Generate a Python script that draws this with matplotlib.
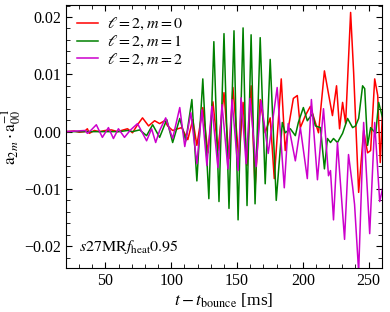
import matplotlib
matplotlib.use("Agg")
import matplotlib.pyplot as plt
from matplotlib.ticker import MultipleLocator

plt.rcParams['font.family'] = ['Liberation Serif', 'DejaVu Serif']
plt.rcParams['mathtext.fontset'] = 'stix'

# ---------------- data ----------------
# l=2, m=0
t_m0 = [20, 26.3, 30.2, 34.0, 36.3, 37.8, 41.6, 45.4, 50.0, 54.6, 59.2, 63.7, 66.8,
        70.6, 74.4, 78.2, 82.8, 87.4, 91.2, 95.0, 97.3, 101.1, 105.0, 108.0, 112.6,
        116.4, 119.5, 124.0, 127.9, 131.7, 135.5, 140.1, 143.9, 146.9, 151.5, 154.6,
        157.6, 160.7, 163.7, 167.6, 171.4, 175.2, 178.3, 183.6, 186.6, 188.9, 192.8,
        195.8, 198.1, 201.9, 205.7, 209.5, 211.9, 216.4, 219.5, 222.5, 225.6, 227.9,
        230.2, 232.5, 236.3, 238.6, 242.4, 246.2, 249.2, 251.5, 254.6, 256.9, 258.8,
        260.7]
a_m0 = [0.0, 0.0001, -0.0001, 0.0, 0.0005, -0.0003, 0.0002, 0.0, 0.0002, 0.0003, 0.0,
        0.0003, 0.0005, -0.0002, 0.0012, 0.0024, 0.0010, 0.0019, 0.0014, 0.0019, 0.0010,
        0.0002, 0.0005, 0.0007, -0.0014, 0.0021, -0.0024, 0.0042, -0.0037, 0.0052,
        -0.0033, 0.0068, -0.0047, 0.0077, -0.0051, 0.0051, -0.0059, 0.0080, -0.0099,
        0.0056, -0.0002, 0.0024, -0.0082, 0.0092, -0.0033, 0.0005, 0.0058, 0.0063,
        0.0007, 0.0028, 0.0044, 0.0016, -0.0002, 0.0106, 0.0066, 0.0028, 0.0080, 0.0005,
        0.0051, 0.0014, 0.0208, 0.0103, -0.0106, 0.0002, -0.0037, -0.0033, 0.0092,
        0.0063, -0.0054, 0.0045]

# l=2, m=1
t_m1 = [20, 60.7, 66.8, 70.6, 76.0, 81.3, 85.9, 91.2, 96.6, 101.1, 106.5, 111.1, 115.7,
        119.5, 124.0, 128.6, 132.4, 136.3, 140.1, 143.9, 147.7, 150.8, 154.6, 157.6,
        160.7, 163.7, 167.6, 171.4, 175.2, 179.8, 184.4, 186.6, 190.5, 194.3, 196.6,
        200.4, 203.4, 207.3, 209.5, 213.4, 216.4, 218.7, 221.0, 223.3, 226.3, 230.2,
        234.0, 237.8, 240.1, 242.4, 245.4, 247.0, 249.2, 251.5, 255.4, 257.6, 260.7]
a_m1 = [0.0, 0.0, 0.0002, 0.0, 0.0003, -0.0007, 0.0012, -0.0010, 0.0021, -0.0019, 0.0023,
        -0.0016, 0.0056, -0.0086, 0.0092, -0.0117, 0.0157, -0.0122, 0.0171, -0.0134,
        0.0176, -0.0154, 0.0181, -0.0129, 0.0169, -0.0126, 0.0164, -0.0091, 0.0126,
        -0.0120, 0.0016, -0.0002, 0.0005, -0.0007, 0.0016, 0.0042, 0.0019, 0.0031,
        0.0010, 0.0007, -0.0065, -0.0012, -0.0019, -0.0012, -0.0019, -0.0003, 0.0023,
        0.0007, 0.0010, 0.0023, 0.0080, 0.0075, -0.0024, 0.0007, -0.0003, 0.0051, 0.0023]

# l=2, m=2
t_m2 = [20, 34.7, 36.3, 39.3, 43.1, 47.7, 52.3, 56.1, 59.9, 64.5, 69.1, 74.4, 81.3, 85.1,
        88.2, 91.2, 95.8, 101.1, 106.5, 110.3, 114.9, 119.5, 123.3, 127.1, 130.9, 135.5,
        138.6, 143.1, 146.2, 150.8, 153.1, 156.9, 159.9, 164.5, 168.3, 173.7, 180.5,
        185.9, 188.9, 194.3, 198.1, 203.4, 206.5, 211.1, 215.7, 219.5, 221.0, 223.3,
        226.3, 231.7, 234.7, 237.8, 239.3, 242.4, 246.2, 250.8, 254.6, 258.4, 260.7]
a_m2 = [0.0, 0.0002, -0.0003, 0.0003, 0.0012, -0.0010, 0.0007, -0.0012, 0.0005, -0.0010,
        0.0003, 0.0014, -0.0016, 0.0005, -0.0019, 0.0002, 0.0024, -0.0012, 0.0042, -0.0026,
        0.0033, -0.0056, 0.0038, -0.0059, 0.0044, -0.0063, 0.0047, -0.0065, 0.0056,
        -0.0068, 0.0059, -0.0056, 0.0058, -0.0061, 0.0054, -0.0038, 0.0077, -0.0098,
        0.0014, -0.0051, 0.0007, -0.0082, 0.0056, -0.0084, 0.0040, -0.0077, -0.0068,
        -0.0154, -0.0019, -0.0188, -0.0040, -0.0096, -0.0127, -0.0245, 0.0016, -0.0178,
        0.0016, -0.0122, -0.0098]

labels = [r"$\ell=2, m=0$", r"$\ell=2, m=1$", r"$\ell=2, m=2$"]
colors = ['#ff0000', '#008000', '#cc00cc']

# ---------------- plot ----------------
fig = plt.figure(figsize=(3.9, 3.12), dpi=100)
ax = fig.add_axes([0.169, 0.141, 0.81, 0.843])

for t, a, c, lab in zip([t_m0, t_m1, t_m2], [a_m0, a_m1, a_m2], colors, labels):
    ax.plot(t, a, color=c, lw=1.1, label=lab, solid_joinstyle='round')

ax.set_xlim(20, 260)
ax.set_ylim(-0.0238, 0.0221)
ax.xaxis.set_major_locator(MultipleLocator(50))
ax.xaxis.set_minor_locator(MultipleLocator(10))
ax.yaxis.set_major_locator(MultipleLocator(0.01))
ax.yaxis.set_minor_locator(MultipleLocator(0.002))
ax.yaxis.set_major_formatter(plt.FuncFormatter(lambda v, p: f"{v:.2f}".replace('-', '\u2212')))
ax.tick_params(which='both', direction='in', top=True, right=True, labelsize=11.5)
ax.tick_params(which='major', length=4.5, width=0.8)
ax.tick_params(which='minor', length=2.8, width=0.6)

ax.set_xlabel(r"$t - t_{\mathrm{bounce}}$ [ms]", fontsize=12.5, labelpad=2)
ax.set_ylabel(r"$\mathrm{a}_{2m}\cdot\mathrm{a}_{00}^{-1}$", fontsize=12.5, labelpad=1)

ax.legend(loc='upper left', frameon=False, fontsize=11.5, handlelength=1.3,
          handletextpad=0.6, labelspacing=0.1, borderaxespad=0.3)
ax.text(0.04, 0.08, r"$s27\mathrm{MR}f_{\mathrm{heat}}0.95$", transform=ax.transAxes,
        fontsize=11.5, ha='left', va='center')

plt.savefig("out.png", dpi=100)
